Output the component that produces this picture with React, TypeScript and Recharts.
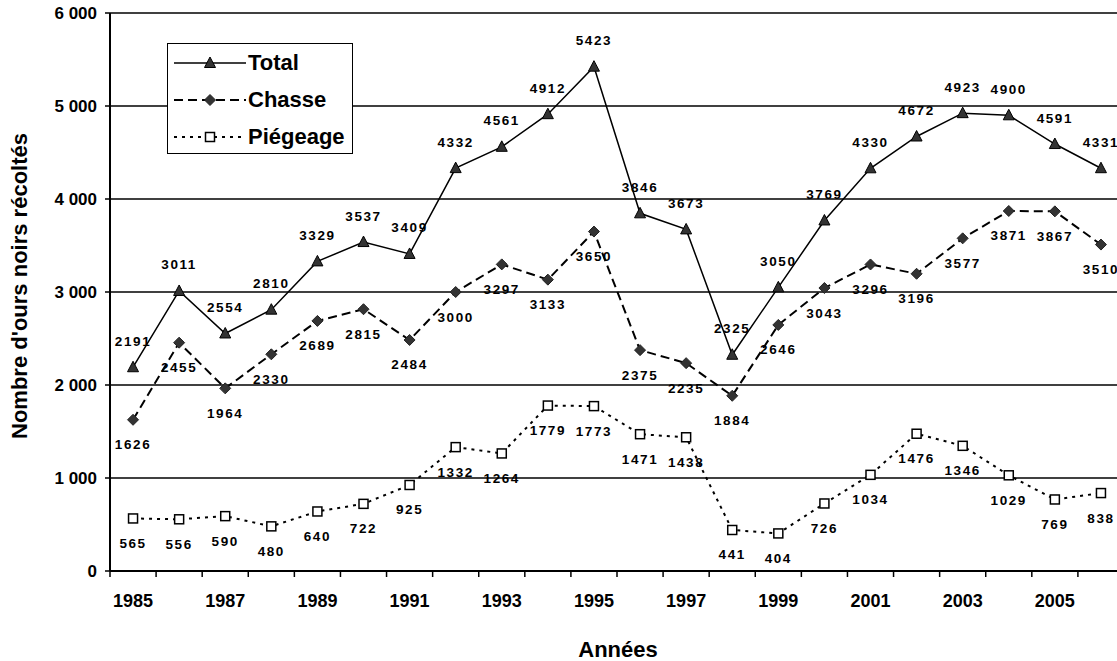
import { CartesianGrid, Legend, LabelList, Line, LineChart, XAxis, YAxis } from "recharts";

const years = [
    "1985", "1986", "1987", "1988", "1989", "1990", "1991", "1992", "1993", "1994", "1995",
    "1996", "1997", "1998", "1999", "2000", "2001", "2002", "2003", "2004", "2005", "2006",
];
const total = [
    2191, 3011, 2554, 2810, 3329, 3537, 3409, 4332, 4561, 4912, 5423,
    3846, 3673, 2325, 3050, 3769, 4330, 4672, 4923, 4900, 4591, 4331,
];
const chasse = [
    1626, 2455, 1964, 2330, 2689, 2815, 2484, 3000, 3297, 3133, 3650,
    2375, 2235, 1884, 2646, 3043, 3296, 3196, 3577, 3871, 3867, 3510,
];
const piegeage = [
    565, 556, 590, 480, 640, 722, 925, 1332, 1264, 1779, 1773,
    1471, 1438, 441, 404, 726, 1034, 1476, 1346, 1029, 769, 838,
];
const yTicks = [0, 1000, 2000, 3000, 4000, 5000, 6000];

const FONT = "'Liberation Sans', Arial, sans-serif";
const CHART_W = 1124;
const Y_AXIS_W = 110;
const STEP = (CHART_W - Y_AXIS_W) / years.length;

const data = years.map((year, i) => ({
    year,
    total: total[i],
    chasse: chasse[i],
    piegeage: piegeage[i],
}));

function Triangle({ cx, cy }: { cx: number; cy: number }) {
    return (
        <path
            d={`M${cx},${cy - 6}L${cx + 5.5},${cy + 4.5}L${cx - 5.5},${cy + 4.5}Z`}
            fill="#333"
            stroke="#000"
            strokeWidth={1}
        />
    );
}

function Diamond({ cx, cy }: { cx: number; cy: number }) {
    return (
        <path
            d={`M${cx},${cy - 5.5}L${cx + 5.5},${cy}L${cx},${cy + 5.5}L${cx - 5.5},${cy}Z`}
            fill="#333"
            stroke="#222"
            strokeWidth={1}
        />
    );
}

function Square({ cx, cy }: { cx: number; cy: number }) {
    return (
        <rect x={cx - 4.5} y={cy - 4.5} width={9} height={9} fill="#fff" stroke="#000" strokeWidth={1.5} />
    );
}

const series = [
    { key: "total", name: "Total", dash: undefined, width: 1.5, Marker: Triangle, labelDy: -21.5 },
    { key: "chasse", name: "Chasse", dash: "9 5", width: 2, Marker: Diamond, labelDy: 29.5 },
    { key: "piegeage", name: "Piégeage", dash: "3 5", width: 2, Marker: Square, labelDy: 29.5 },
];

function makeLabel(dy: number) {
    return (props: any) => {
        const { x, y, value } = props;
        return (
            <text
                x={x}
                y={y + dy}
                textAnchor="middle"
                fontFamily={FONT}
                fontSize={13.5}
                fontWeight="bold"
                letterSpacing={1.6}
                fill="#000"
            >
                {value}
            </text>
        );
    };
}

function XTick(props: any) {
    const { x, y, payload, index } = props;
    const half = STEP / 2;
    const odd = Number(payload.value) % 2 === 1;
    return (
        <g>
            <line x1={x - half} x2={x - half} y1={y} y2={y + 6} stroke="#000" strokeWidth={1.5} />
            {index === years.length - 1 && (
                <line x1={x + half} x2={x + half} y1={y} y2={y + 6} stroke="#000" strokeWidth={1.5} />
            )}
            {odd && (
                <text x={x} y={y + 36} textAnchor="middle" fontFamily={FONT} fontSize={18} fontWeight="bold" fill="#000">
                    {payload.value}
                </text>
            )}
        </g>
    );
}

function LegendBox() {
    return (
        <div
            style={{
                position: "relative",
                width: 186,
                height: 111,
                boxSizing: "border-box",
                border: "1.5px solid #000",
                background: "#fff",
                fontFamily: FONT,
            }}
        >
            {series.map((s, i) => (
                <div
                    key={s.key}
                    style={{
                        position: "absolute",
                        left: 5,
                        top: 6 + i * 37,
                        height: 26,
                        display: "flex",
                        alignItems: "center",
                    }}
                >
                    <svg width={74} height={26}>
                        <line x1={1} x2={73} y1={13} y2={13} stroke="#000" strokeWidth={s.width} strokeDasharray={s.dash} />
                        <s.Marker cx={37} cy={13} />
                    </svg>
                    <span style={{ fontSize: 22, fontWeight: "bold", color: "#000", marginLeft: 1 }}>{s.name}</span>
                </div>
            ))}
        </div>
    );
}

export default function App() {
    return (
        <div
            style={{
                position: "absolute",
                left: 0,
                top: 0,
                width: 1117,
                height: 661,
                overflow: "hidden",
                background: "#fff",
            }}
        >
            <LineChart width={CHART_W} height={661} data={data} margin={{ top: 13, right: 0, bottom: 0, left: 0 }}>
                <CartesianGrid vertical={false} stroke="#000" strokeWidth={1.5} />
                <XAxis
                    dataKey="year"
                    height={90}
                    interval={0}
                    padding={{ left: STEP / 2, right: STEP / 2 }}
                    tickLine={false}
                    tickSize={0}
                    tickMargin={0}
                    axisLine={{ stroke: "#000", strokeWidth: 2 }}
                    tick={<XTick />}
                    label={{
                        content: (p: any) => (
                            <text
                                x={p.viewBox.x + p.viewBox.width / 2 + 1}
                                y={657}
                                textAnchor="middle"
                                fontFamily={FONT}
                                fontSize={22}
                                fontWeight="bold"
                                fill="#000"
                            >
                                Années
                            </text>
                        ),
                    }}
                />
                <YAxis
                    width={Y_AXIS_W}
                    domain={[0, 6000]}
                    ticks={yTicks}
                    interval={0}
                    tickSize={5}
                    tickMargin={8}
                    tickFormatter={(v: number) => (v === 0 ? "0" : `${v / 1000} 000`)}
                    tick={{ fontFamily: FONT, fontSize: 17, fontWeight: "bold", fill: "#000" }}
                    axisLine={{ stroke: "#000", strokeWidth: 2 }}
                    tickLine={{ stroke: "#000", strokeWidth: 1.5 }}
                    label={{
                        content: () => (
                            <text
                                x={27}
                                y={286}
                                transform="rotate(-90, 27, 286)"
                                textAnchor="middle"
                                fontFamily={FONT}
                                fontSize={22}
                                fontWeight="bold"
                                fill="#000"
                            >
                                Nombre d'ours noirs récoltés
                            </text>
                        ),
                    }}
                />
                <Legend
                    layout="vertical"
                    align="center"
                    verticalAlign="middle"
                    wrapperStyle={{ left: 167, top: 43, width: 186, height: 111 }}
                    content={() => <LegendBox />}
                />
                {series
                    .slice()
                    .reverse()
                    .map((s) => (
                        <Line
                            key={s.key}
                            dataKey={s.key}
                            name={s.name}
                            type="linear"
                            stroke="#000"
                            strokeWidth={s.width}
                            strokeDasharray={s.dash}
                            dot={(p: any) => <s.Marker key={`${s.key}-${p.index}`} cx={p.cx} cy={p.cy} />}
                            activeDot={false}
                            isAnimationActive={false}
                        >
                            <LabelList dataKey={s.key} content={makeLabel(s.labelDy)} />
                        </Line>
                    ))}
            </LineChart>
        </div>
    );
}
